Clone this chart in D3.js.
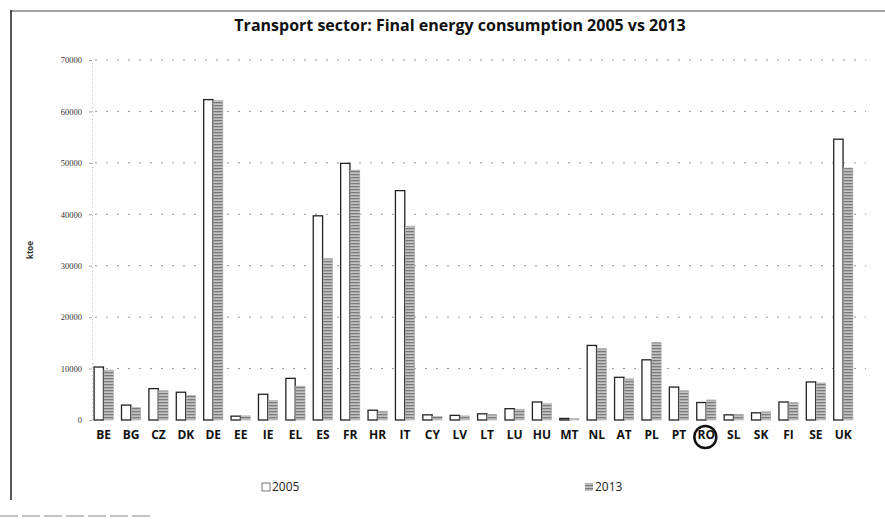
<!DOCTYPE html>
<html lang="en">
<head>
<meta charset="UTF-8">
<title>Transport sector</title>
<script src="https://d3js.org/d3.v7.min.js"></script>
<style>
  body{ margin:0; background:#fff; font-family:"Open Sans", sans-serif; }
  svg{ display:block; }
</style>
</head>
<body>
<div id="chart"></div>
<script>
// data (ktoe)
var countries = ['BE','BG','CZ','DK','DE','EE','IE','EL','ES','FR','HR','IT','CY','LV','LT','LU','HU','MT','NL','AT','PL','PT','RO','SL','SK','FI','SE','UK'];
var values2005 = [10300,2900,6100,5400,62300,750,5000,8100,39700,49900,1900,44600,1000,900,1200,2200,3500,300,14500,8300,11700,6400,3400,1000,1400,3500,7400,54600];
var values2013 = [9700,2400,5700,4800,62100,800,3800,6600,31400,48600,1700,37700,700,800,1100,2100,3200,300,13900,8000,15100,5700,3900,1100,1600,3400,7200,49000];
var yTicks = [0,10000,20000,30000,40000,50000,60000,70000];
var series = ['2005','2013'];

var width = 885, height = 520;
var svg = d3.select('#chart').append('svg')
            .attr('width', width)
            .attr('height', height);

// hatch pattern for the 2013 bars
var defs = svg.append('defs');
var pat = defs.append('pattern')
              .attr('id','hatch')
              .attr('patternUnits','userSpaceOnUse')
              .attr('width',3).attr('height',3);
pat.append('rect').attr('width',3).attr('height',3).attr('fill','#c4c4c4');
pat.append('rect').attr('width',3).attr('height',1.3).attr('fill','#7a7a7a');

// scanned frame
svg.append('line').attr('x1',10).attr('x2',885).attr('y1',11).attr('y2',11)
   .attr('stroke','#444').attr('stroke-width',1.2);
svg.append('line').attr('x1',11).attr('x2',11).attr('y1',10).attr('y2',500)
   .attr('stroke','#222').attr('stroke-width',1.5);
svg.append('line').attr('x1',0).attr('x2',150).attr('y1',516).attr('y2',516)
   .attr('stroke','#888').attr('stroke-width',1).attr('stroke-dasharray','18,4');

var x = d3.scaleBand().domain(countries).range([90, 857]).paddingInner(0.3).paddingOuter(0.15);
var xs = d3.scaleBand().domain(series).range([0, x.bandwidth()]).paddingInner(0.05);
var y = d3.scaleLinear().domain([0,70000]).range([420, 60]);

// title
svg.append('text')
   .attr('x', 460).attr('y', 31)
   .attr('text-anchor','middle')
   .style('font-size','16px').style('font-weight','bold').style('fill','#111')
   .text('Transport sector: Final energy consumption 2005 vs 2013');

// dotted gridlines
svg.append('g').selectAll('line')
   .data(yTicks.slice(1))
   .enter().append('line')
   .attr('x1', 95).attr('x2', 866)
   .attr('y1', function(d){ return y(d); })
   .attr('y2', function(d){ return y(d); })
   .attr('stroke','#999').attr('stroke-width',1)
   .attr('stroke-dasharray','2,9');

// y axis
var yAxis = d3.axisLeft(y).tickValues(yTicks).tickSize(3).tickFormat(d3.format('d'));
var gy = svg.append('g').attr('transform','translate(92,0)').call(yAxis);
gy.select('.domain').attr('stroke','#bbb').attr('stroke-dasharray','1,3');
gy.selectAll('.tick line').attr('stroke','#aaa');
gy.selectAll('.tick text')
  .attr('x', -10)
  .attr('fill','#333')
  .style('font-size','8.5px')
  .style('font-family','"Liberation Serif", serif');

svg.append('text')
   .attr('transform','translate(33,250) rotate(-90)')
   .attr('text-anchor','middle')
   .style('font-size','8px').style('font-weight','bold').style('fill','#333')
   .text('ktoe');

// bars
var groups = svg.append('g').selectAll('g')
   .data(countries)
   .enter().append('g')
   .attr('transform', function(d){ return 'translate(' + x(d) + ',0)'; });

groups.append('rect')
   .attr('x', xs('2005'))
   .attr('width', xs.bandwidth())
   .attr('y', function(d,i){ return y(values2005[i]); })
   .attr('height', function(d,i){ return y(0) - y(values2005[i]); })
   .attr('fill','#fff')
   .attr('stroke','#222').attr('stroke-width',1.3);

groups.append('rect')
   .attr('x', xs('2013'))
   .attr('width', xs.bandwidth())
   .attr('y', function(d,i){ return y(values2013[i]); })
   .attr('height', function(d,i){ return y(0) - y(values2013[i]); })
   .attr('fill','url(#hatch)')
   .attr('stroke','#aaa').attr('stroke-width',0.6);

// category labels
var xAxis = d3.axisBottom(x).tickSize(0).tickPadding(0);
var gx = svg.append('g').attr('transform','translate(0,430)').call(xAxis);
gx.select('.domain').remove();
gx.selectAll('.tick text')
  .attr('dy','0.71em')
  .attr('fill','#111')
  .style('font-size','12px').style('font-weight','bold')
  .style('font-family','"Open Sans", sans-serif');

// RO circled by hand in the original
svg.append('circle')
   .attr('cx', x('RO') + x.bandwidth()/2 - 1).attr('cy', 437)
   .attr('r', 11)
   .attr('fill','none').attr('stroke','#111').attr('stroke-width',2.5);

// legend
var legend = [
  {name:'2005', x:262},
  {name:'2013', x:585}
];
var lg = svg.append('g').selectAll('g')
   .data(legend).enter().append('g')
   .attr('transform', function(d){ return 'translate(' + d.x + ',491)'; });
lg.append('rect')
   .attr('x',0).attr('y',-8).attr('width',8).attr('height',8)
   .attr('fill', function(d,i){ return i === 0 ? '#fff' : 'url(#hatch)'; })
   .attr('stroke', function(d,i){ return i === 0 ? '#555' : 'none'; })
   .attr('stroke-width',0.8);
lg.append('text')
   .attr('x',10).attr('y',0)
   .style('font-size','12px').style('fill','#222')
   .text(function(d){ return d.name; });
</script>
</body>
</html>
